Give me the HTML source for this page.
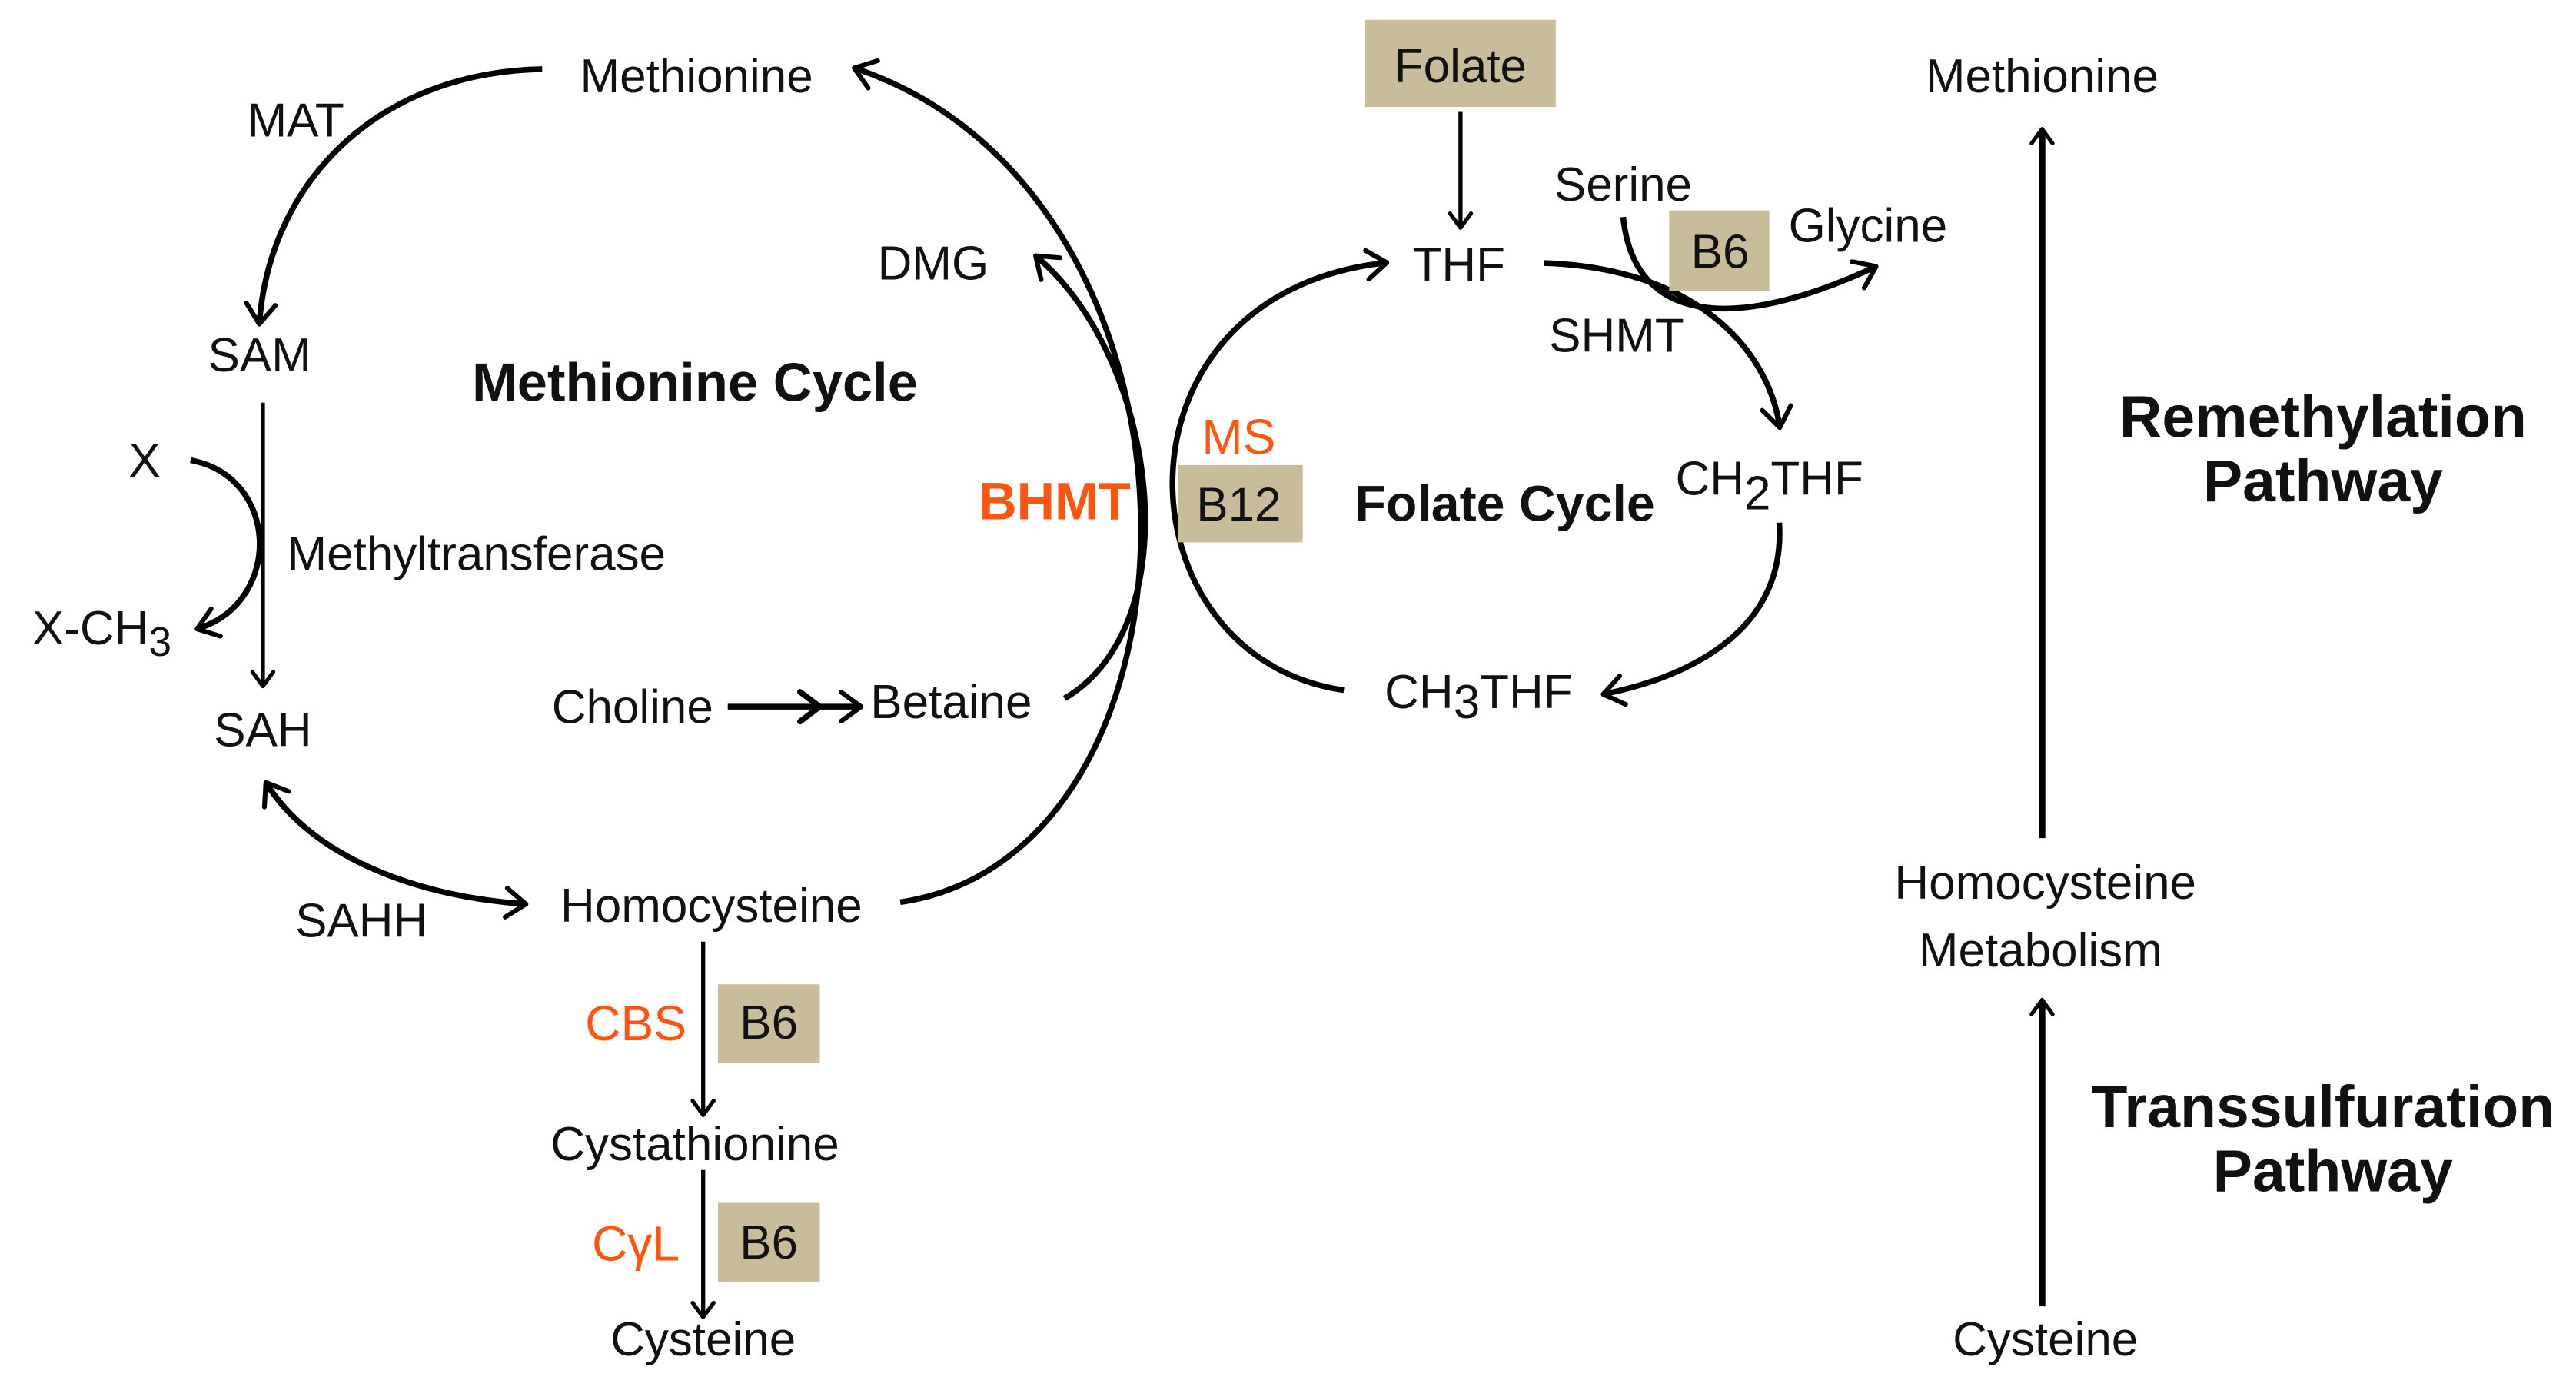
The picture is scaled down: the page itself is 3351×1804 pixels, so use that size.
<!DOCTYPE html>
<html><head><meta charset="utf-8"><style>
html,body{margin:0;padding:0;background:#fff;}
svg{display:block;}
text{font-family:"Liberation Sans",Arial,sans-serif;fill:#111;}
</style></head><body>
<svg width="3351" height="1804" viewBox="0 0 1568 844" xmlns="http://www.w3.org/2000/svg">
<defs>
<marker id="b" viewBox="0 0 20 20" refX="12" refY="10" markerWidth="22" markerHeight="22" markerUnits="userSpaceOnUse" orient="auto-start-reverse">
<polyline points="3,2 14,10 3,18" fill="none" stroke="#000" stroke-width="2.6" stroke-linecap="round" stroke-linejoin="round"/>
</marker>
<marker id="c" viewBox="0 0 20 20" refX="12" refY="10" markerWidth="16" markerHeight="16" markerUnits="userSpaceOnUse" orient="auto-start-reverse">
<polyline points="3,2 14,10 3,18" fill="none" stroke="#000" stroke-width="3" stroke-linecap="round" stroke-linejoin="round"/>
</marker>
</defs>
<g fill="none" stroke="#000" stroke-width="3.5" marker-end="url(#b)">
<path d="M330,42 C230,44 165,110 158,195"/>
<path d="M160,245 L160,416" stroke-width="2.5" marker-end="url(#c)"/>
<path d="M116,280 C170,290 172,365 122,382"/>
<path d="M163,478 C190,520 250,545 318,550" marker-start="url(#b)"/>
<path d="M548,549 C745,520 750,120 522,42"/>
<path d="M648,425 C725,380 705,220 632,157"/>
<path d="M818,420 C680,400 670,180 842,160"/>
<path d="M940,160 C1030,163 1075,210 1083,258"/>
<path d="M1083,318 C1087,380 1035,410 978,422"/>
<path d="M988,132 C995,200 1060,200 1140,163"/>
<path d="M889,68 L889,137" stroke-width="2.5" marker-end="url(#c)"/>
<path d="M443,430 L522,430"/>
<path d="M428,573 L428,677" stroke-width="2.5" marker-end="url(#c)"/>
<path d="M428,712 L428,800" stroke-width="2.5" marker-end="url(#c)"/>
<path d="M1243,510 L1243,80" stroke-width="4" marker-end="url(#c)"/>
<path d="M1243,795 L1243,610" stroke-width="4" marker-end="url(#c)"/>
</g>
<polyline points="487,421 499,430 487,439" fill="none" stroke="#000" stroke-width="3.5" stroke-linecap="round"/>
<g fill="#c8bc9a">
<rect x="717" y="283" width="76" height="47"/>
<rect x="831" y="12" width="116" height="53"/>
<rect x="1016" y="128" width="61" height="49"/>
<rect x="437" y="599" width="62" height="48"/>
<rect x="437" y="732" width="62" height="48"/>
</g>
<g font-size="29" text-anchor="middle">
<text x="424" y="56">Methionine</text>
<text x="180" y="83">MAT</text>
<text x="158" y="226">SAM</text>
<text x="160" y="454">SAH</text>
<text x="88" y="290">X</text>
<text x="62" y="392">X-CH<tspan font-size="25" dy="7">3</tspan></text>
<text x="290" y="347">Methyltransferase</text>
<text x="568" y="170">DMG</text>
<text x="385" y="440">Choline</text>
<text x="579" y="437">Betaine</text>
<text x="754" y="317">B12</text>
<text x="889" y="50">Folate</text>
<text x="888" y="171">THF</text>
<text x="988" y="122">Serine</text>
<text x="1047" y="163">B6</text>
<text x="1137" y="147">Glycine</text>
<text x="984" y="214">SHMT</text>
<text x="1077" y="301">CH<tspan dy="9">2</tspan><tspan dy="-9">THF</tspan></text>
<text x="900" y="431">CH<tspan dy="6">3</tspan><tspan dy="-6">THF</tspan></text>
<text x="433" y="561">Homocysteine</text>
<text x="220" y="570">SAHH</text>
<text x="468" y="632">B6</text>
<text x="423" y="706">Cystathionine</text>
<text x="468" y="766">B6</text>
<text x="428" y="825">Cysteine</text>
<text x="1243" y="56">Methionine</text>
<text x="1245" y="547">Homocysteine</text>
<text x="1242" y="588">Metabolism</text>
<text x="1245" y="825">Cysteine</text>
</g>
<g text-anchor="middle" font-weight="bold">
<text x="423" y="244" font-size="33">Methionine Cycle</text>
<text x="916" y="317" font-size="31">Folate Cycle</text>
<text x="1414" y="266" font-size="36">Remethylation</text>
<text x="1414" y="305" font-size="36">Pathway</text>
<text x="1414" y="686" font-size="36">Transsulfuration</text>
<text x="1420" y="725" font-size="36">Pathway</text>
<text x="642" y="316" font-size="32" style="fill:#ff5511">BHMT</text>
</g>
<g font-size="30" text-anchor="middle">
<text x="754" y="276" style="fill:#ff5511">MS</text>
<text x="387" y="633" style="fill:#ff5511">CBS</text>
<text x="387" y="767" style="fill:#ff5511">CγL</text>
</g>
</svg>
</body></html>
